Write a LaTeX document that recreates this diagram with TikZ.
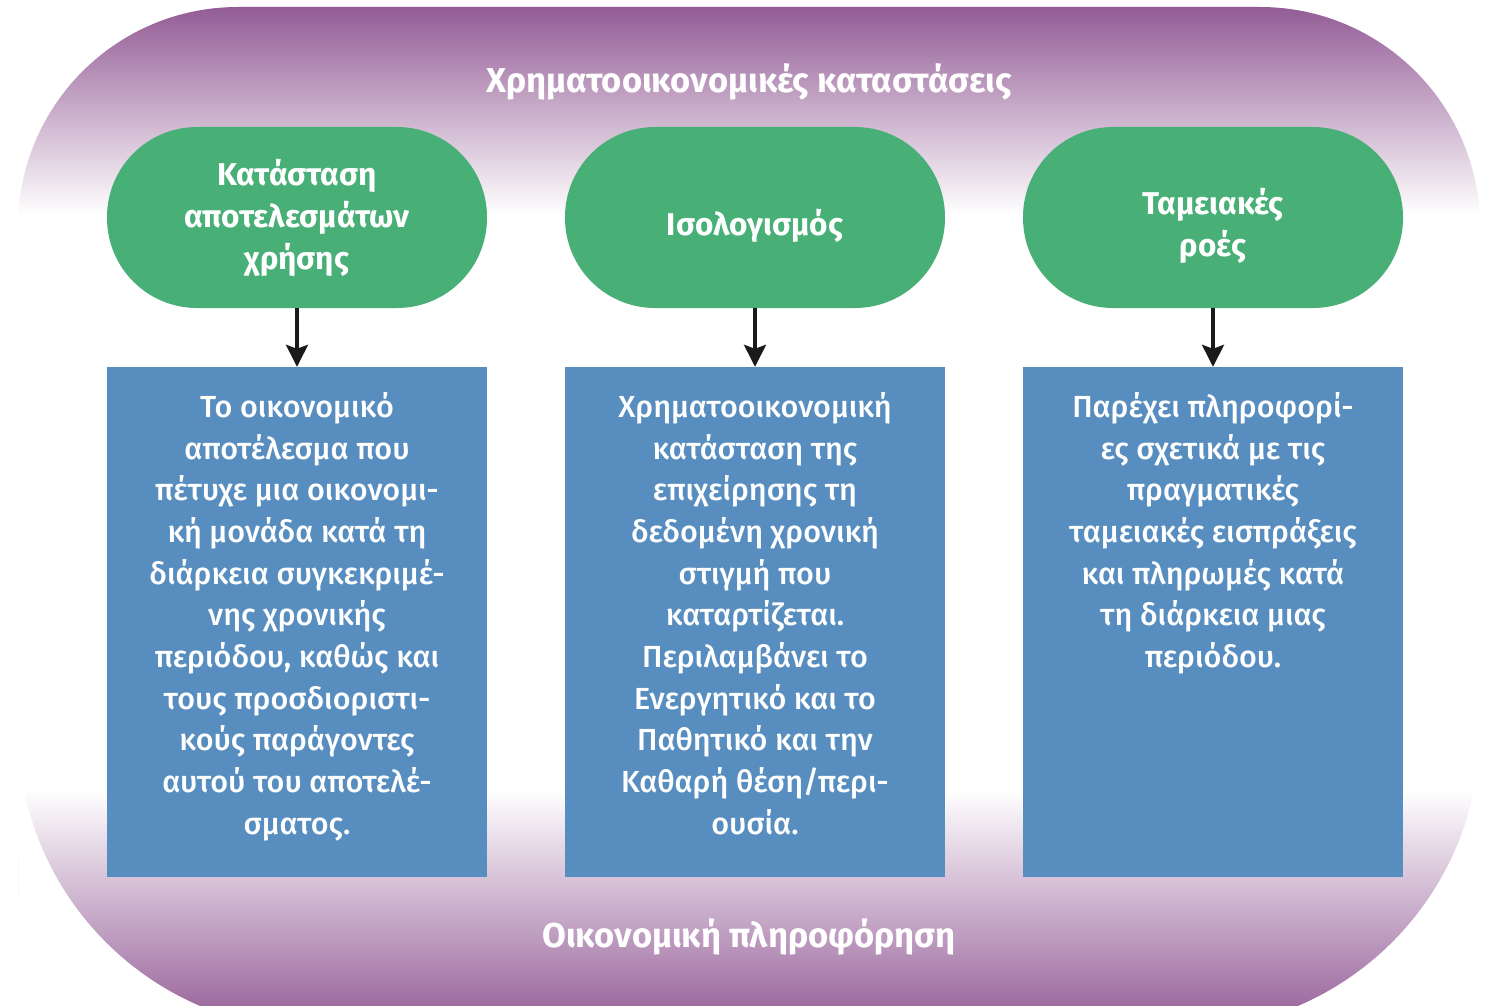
\documentclass[tikz,border=0pt]{standalone}
\usepackage{fontspec}
\newfontfamily\fira{Fira Sans}
\newfontfamily\firam{Fira Sans Medium}
\usetikzlibrary{arrows.meta}
\definecolor{purp}{RGB}{147,92,150}
\definecolor{grn}{RGB}{72,175,119}
\definecolor{blu}{RGB}{87,142,191}
\definecolor{arr}{RGB}{26,26,26}
\newcommand{\lowerln}[1]{\raisebox{-8pt}[\height][\depth]{#1}}
\begin{document}
\begin{tikzpicture}[x=1pt,y=-1pt,
  head/.style={fill=grn, rounded corners=90pt, minimum width=380pt, minimum height=181pt, inner sep=0pt, text=white, align=center, font=\fira\bfseries\fontsize{31.5}{42}\selectfont},
  infobox/.style={fill=blu, minimum width=380pt, minimum height=510pt, inner sep=0pt},
  body/.style={text=white, align=center, anchor=north, inner sep=0pt, font=\firam\fontsize{30.5}{41.7}\selectfont},
  title/.style={text=white, font=\fira\bfseries\fontsize{34.5}{40}\selectfont},
  link/.style={arr, line width=3.5pt, -{Stealth[length=22pt,width=22pt,inset=4pt]}}]
\useasboundingbox (0,0) rectangle (1489,1006);
\begin{scope}
\clip (18,600) [rounded corners=220pt] |- (749,7) -| (1480,600) [rounded corners=300pt] |- (749,1030) -| (18,600) -- cycle;
\shade[top color=purp, bottom color=white] (0,7) rectangle (1489,215);
\shade[top color=white, bottom color=purp] (0,790) rectangle (1489,1030);
\end{scope}
\node[title] (ttop) at (749,82) {Χρηματοοικονομικές καταστάσεις};
\node[title] (tbot) at (749,937) {Οικονομική πληροφόρηση};

\node[head] (h1) at (297,217.5) {Κατάσταση\\αποτελεσμάτων\\χρήσης};
\node[head] (h2) at (755,217.5) {\lowerln{Ισολογισμός}};
\node[head] (h3) at (1213,217.5) {\lowerln{Ταμειακές}\\\lowerln{ροές}};

\node[infobox] (b1) at (297,622) {};
\node[infobox] (b2) at (755,622) {};
\node[infobox] (b3) at (1213,622) {};

\draw[link] (h1) -- (b1);
\draw[link] (h2) -- (b2);
\draw[link] (h3) -- (b3);

\node[body] (t1) at (297,392) {Το οικονομικό\\αποτέλεσμα που\\πέτυχε μια οικονομι-\\κή μονάδα κατά τη\\διάρκεια συγκεκριμέ-\\νης χρονικής\\περιόδου, καθώς και\\τους προσδιοριστι-\\κούς παράγοντες\\αυτού του αποτελέ-\\σματος.};
\node[body] (t2) at (755,392) {Χρηματοοικονομική\\κατάσταση της\\επιχείρησης τη\\δεδομένη χρονική\\στιγμή που\\καταρτίζεται.\\Περιλαμβάνει το\\Ενεργητικό και το\\Παθητικό και την\\Καθαρή θέση/περι-\\ουσία.};
\node[body] (t3) at (1213,392) {Παρέχει πληροφορί-\\ες σχετικά με τις\\πραγματικές\\ταμειακές εισπράξεις\\και πληρωμές κατά\\τη διάρκεια μιας\\περιόδου.};
\end{tikzpicture}
\end{document}
